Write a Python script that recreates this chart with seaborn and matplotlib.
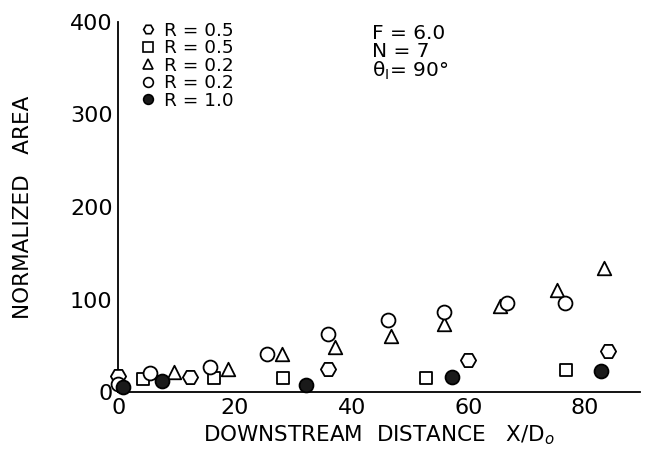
import matplotlib
matplotlib.use("Agg")
import matplotlib.pyplot as plt
from matplotlib.lines import Line2D
import seaborn as sns
import pandas as pd

# Data
hex_x = [0.0, 12.3, 36.0, 60.0, 84.0]
hex_y = [17, 16, 25, 35, 44]
sq_x = [4.3, 16.5, 28.2, 52.8, 76.7]
sq_y = [14, 15, 15, 15, 24]
tri_x = [9.6, 18.8, 28.0, 37.1, 46.7, 55.9, 65.4, 75.2, 83.2]
tri_y = [22, 25, 41, 49, 61, 74, 93, 110, 134]
circ_x = [0.0, 5.5, 15.7, 25.5, 36.0, 46.2, 55.9, 66.6, 76.5]
circ_y = [9, 21, 27, 41, 63, 78, 87, 96, 96]
fill_x = [0.8, 7.5, 32.2, 57.2, 82.7]
fill_y = [5, 12, 8, 16, 23]

labels = ["R = 0.5", "R = 0.5", "R = 0.2", "R = 0.2", "R = 1.0"]
x_ticks = [0, 20, 40, 60, 80]
y_ticks = [0, 100, 200, 300, 400]

series = [
    (hex_x, hex_y, "H", "white", 120),
    (sq_x, sq_y, "s", "white", 75),
    (tri_x, tri_y, "^", "white", 95),
    (circ_x, circ_y, "o", "white", 100),
    (fill_x, fill_y, "o", "#1a1a1a", 100),
]

sns.set_style("white")
plt.rcParams["font.family"] = ["DejaVu Sans"]
plt.rcParams["text.color"] = "black"
plt.rcParams["axes.labelcolor"] = "black"

fig = plt.figure(figsize=(6.53, 4.57), dpi=100)
ax = fig.add_axes([0.181, 0.142, 0.799, 0.810])

for i, (xs, ys, m, fc, sz) in enumerate(series):
    df = pd.DataFrame({"x": xs, "y": ys})
    sns.scatterplot(data=df, x="x", y="y", ax=ax, marker=m, s=sz,
                    color=fc, edgecolor="black", linewidth=1.3, clip_on=False, zorder=3 + i)

ax.set_xlim(0, 89.4)
ax.set_ylim(0, 400)
ax.set_xticks(x_ticks)
ax.set_yticks(y_ticks)
ax.tick_params(direction="in", length=6, width=1.2, labelsize=16, colors="black", pad=4)
sns.despine(ax=ax)
for s in ["left", "bottom"]:
    ax.spines[s].set_color("black")
    ax.spines[s].set_linewidth(1.3)

ax.set_xlabel("DOWNSTREAM  DISTANCE   X/D$_o$", fontsize=15.5, labelpad=4)
ax.set_ylabel("NORMALIZED   AREA", fontsize=15.5, labelpad=27)

handles = []
for (xs, ys, m, fc, sz), lab in zip(series, labels):
    handles.append(Line2D([], [], linestyle="none", marker=m, markersize=7,
                          markerfacecolor=fc, markeredgecolor="black",
                          markeredgewidth=1.2, label=lab))
leg = ax.legend(handles=handles, loc="upper left", bbox_to_anchor=(0.025, 1.02),
                frameon=False, fontsize=13.3, handletextpad=0.4, labelspacing=-0.03,
                borderaxespad=0.0, handlelength=1.0)
for t in leg.get_texts():
    t.set_color("black")

ax.text(0.486, 0.995, "F = 6.0\nN = 7\nθ$_\\mathrm{I}$= 90°", transform=ax.transAxes,
        fontsize=14.5, va="top", ha="left", linespacing=0.95)

fig.savefig("out.png", dpi=100)
